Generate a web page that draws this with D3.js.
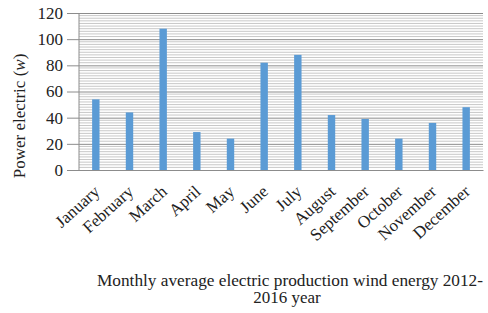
<!DOCTYPE html>
<html>
<head>
<meta charset="utf-8">
<script src="https://cdn.jsdelivr.net/npm/d3@7"></script>
<style>
  body { margin: 0; background: #fff; }
</style>
</head>
<body>
<div id="chart"></div>
<script>
// chart data
var months = ["January", "February", "March", "April", "May", "June",
  "July", "August", "September", "October", "November", "December"];
var power = [54, 44, 108, 29, 24, 82, 88, 42, 39, 24, 36, 48];
var yTicks = [0, 20, 40, 60, 80, 100, 120];

var serif = "Liberation Serif";

var svgWidth = 488, svgHeight = 313;
var margin = { top: 13, right: 5, bottom: 143, left: 79 };
var width = svgWidth - margin.left - margin.right;
var height = svgHeight - margin.top - margin.bottom;

var svg = d3.select("#chart").append("svg")
  .attr("width", svgWidth)
  .attr("height", svgHeight)
  .attr("font-family", serif);

var chartGroup = svg.append("g")
  .attr("transform", `translate(${margin.left}, ${margin.top})`);

var xScale = d3.scaleBand()
  .domain(months)
  .range([0, width])
  .paddingInner(0.78)
  .paddingOuter(0.39);

var yScale = d3.scaleLinear()
  .domain([0, 120])
  .range([height, 0]);

// minor gridlines every 2
chartGroup.append("g")
  .selectAll("line")
  .data(d3.range(2, 120, 2).filter(v => v % 20 != 0))
  .enter()
  .append("line")
  .attr("x1", 0).attr("x2", width)
  .attr("y1", d => yScale(d)).attr("y2", d => yScale(d))
  .attr("stroke", "#c8c8c8")
  .attr("stroke-width", 1);

// major gridlines with ticks
var yAxis = d3.axisLeft(yScale)
  .tickValues(yTicks)
  .tickSize(-width)
  .tickPadding(16);

var yG = chartGroup.append("g").call(yAxis)
  .attr("font-family", serif);
yG.select(".domain").remove();
yG.selectAll(".tick line")
  .attr("x1", -12)
  .attr("stroke", "#8c8c8c");
yG.selectAll("text")
  .attr("font-size", 17)
  .attr("fill", "#222")
  .attr("font-family", serif);

// left axis line
chartGroup.append("line")
  .attr("x1", 0).attr("x2", 0)
  .attr("y1", 0).attr("y2", height)
  .attr("stroke", "#8c8c8c");

// bars
chartGroup.selectAll("rect.bar")
  .data(power)
  .enter()
  .append("rect")
  .attr("class", "bar")
  .attr("x", (d, i) => xScale(months[i]))
  .attr("y", d => yScale(d))
  .attr("width", xScale.bandwidth())
  .attr("height", d => height - yScale(d))
  .attr("fill", "#5b9bd5");

// x axis
var xAxis = d3.axisBottom(xScale).tickSize(0).tickPadding(0);
var xG = chartGroup.append("g")
  .attr("transform", `translate(0, ${height})`)
  .call(xAxis)
  .attr("font-family", serif);
xG.select(".domain").attr("stroke", "#8c8c8c");
xG.selectAll("text")
  .attr("font-size", 17)
  .attr("fill", "#222")
  .attr("font-family", serif)
  .attr("text-anchor", "end")
  .attr("dy", 0)
  .attr("transform", "translate(5, 23) rotate(-42)");

// y axis label
svg.append("text")
  .attr("transform", "translate(25, 116) rotate(-90)")
  .attr("text-anchor", "middle")
  .attr("font-size", 17)
  .attr("font-family", serif)
  .attr("fill", "#222")
  .html('Power electric  (<tspan font-style="italic">w</tspan>)');

// bottom caption
var caption = svg.append("text")
  .attr("text-anchor", "middle")
  .attr("font-size", 16)
  .attr("font-family", serif)
  .attr("fill", "#222");
caption.append("tspan")
  .attr("x", 290).attr("y", 286)
  .attr("textLength", 386)
  .attr("lengthAdjust", "spacingAndGlyphs")
  .text("Monthly average  electric production wind energy 2012-");
caption.append("tspan")
  .attr("x", 287).attr("y", 303)
  .attr("font-size", 17)
  .text("2016 year");
</script>
</body>
</html>
